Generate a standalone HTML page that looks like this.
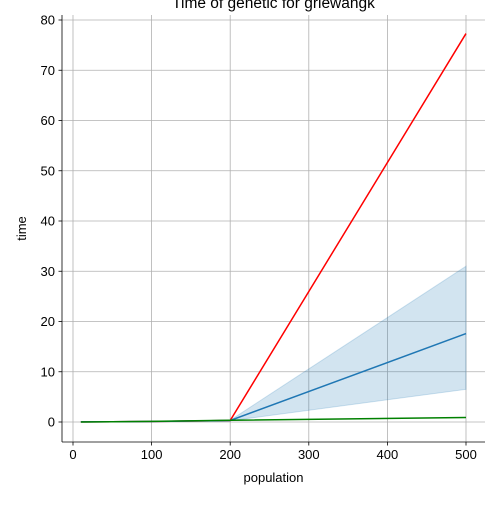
<!DOCTYPE html>
<html><head><meta charset="utf-8"><style>
body{margin:0;background:#fff;font-family:"Liberation Sans",sans-serif;}
svg text{font-family:"Liberation Sans",sans-serif;fill:#000}
</style></head><body>
<svg id="chart" width="500" height="500" xmlns="http://www.w3.org/2000/svg"></svg>
<script>
const xs=[10,50,100,200,500];
const redVals=[0.02,0.05,0.1,0.3,77.3];
const blueVals=[0.02,0.05,0.1,0.3,17.6];
const blueLow=[0.02,0.05,0.1,0.25,6.5];
const blueHigh=[0.02,0.05,0.1,0.35,31];
const greenVals=[0.0,0.05,0.12,0.35,0.9];
const xTicks=[0,100,200,300,400,500];
const yTicks=[0,10,20,30,40,50,60,70,80];
const L=62,R=485,T=15,B=442;
const X=v=>73+v*(466-73)/500;
const Y=v=>422-v*(422-20)/80;
const svg=document.getElementById('chart');
const NS='http://www.w3.org/2000/svg';
function mk(tag,attrs,parent){const e=document.createElementNS(NS,tag);for(const k in attrs)e.setAttribute(k,attrs[k]);(parent||svg).appendChild(e);return e;}
// grid
xTicks.forEach(t=>{const g=mk('line',{x1:X(t),x2:X(t),y1:T,y2:B,stroke:'#b0b0b0','stroke-width':0.8});


mk('line',{x1:X(t),x2:X(t),y1:B,y2:B+3.5,stroke:'#000','stroke-width':0.8});
const tx=mk('text',{x:X(t),y:B+17,'font-size':13,'text-anchor':'middle'});tx.textContent=t;

});
yTicks.forEach(t=>{const g=mk('line',{x1:L,x2:R,y1:Y(t),y2:Y(t),stroke:'#b0b0b0','stroke-width':0.8});


mk('line',{x1:L-3.5,x2:L,y1:Y(t),y2:Y(t),stroke:'#000','stroke-width':0.8});
const tx=mk('text',{x:L-7,y:Y(t)+4.5,'font-size':13,'text-anchor':'end'});tx.textContent=t;

});
// band
let d='M'+xs.map((x,i)=>X(x)+','+Y(blueHigh[i])).join('L')+'L'+xs.map((x,i)=>X(x)+','+Y(blueLow[i])).reverse().join('L')+'Z';
const band=mk('path',{d:d,fill:'#1f77b4','fill-opacity':0.2,stroke:'#1f77b4','stroke-opacity':0.2});


function line(vals,color,name){const p=mk('path',{d:'M'+xs.map((x,i)=>X(x)+','+Y(vals[i])).join('L'),fill:'none',stroke:color,'stroke-width':1.5});

}
line(redVals,'#ff0000','red-series-line');
line(blueVals,'#1f77b4','blue-series-line');
line(greenVals,'#008000','green-series-line');
// spines
const sp1=mk('line',{x1:L,x2:L,y1:T,y2:B,stroke:'#000','stroke-width':0.8});


const sp2=mk('line',{x1:L,x2:R,y1:B,y2:B,stroke:'#000','stroke-width':0.8});


const xt=mk('text',{x:(L+R)/2,y:482,'font-size':13,'text-anchor':'middle'});xt.textContent='population';


const yt=mk('text',{x:0,y:0,'font-size':13,'text-anchor':'middle',transform:'translate(26,'+((T+B)/2)+') rotate(-90)'});yt.textContent='time';


const ti=mk('text',{x:(L+R)/2,y:8,'font-size':15.5,'text-anchor':'middle'});ti.textContent='Time of genetic for griewangk';


</script>
</body></html>
